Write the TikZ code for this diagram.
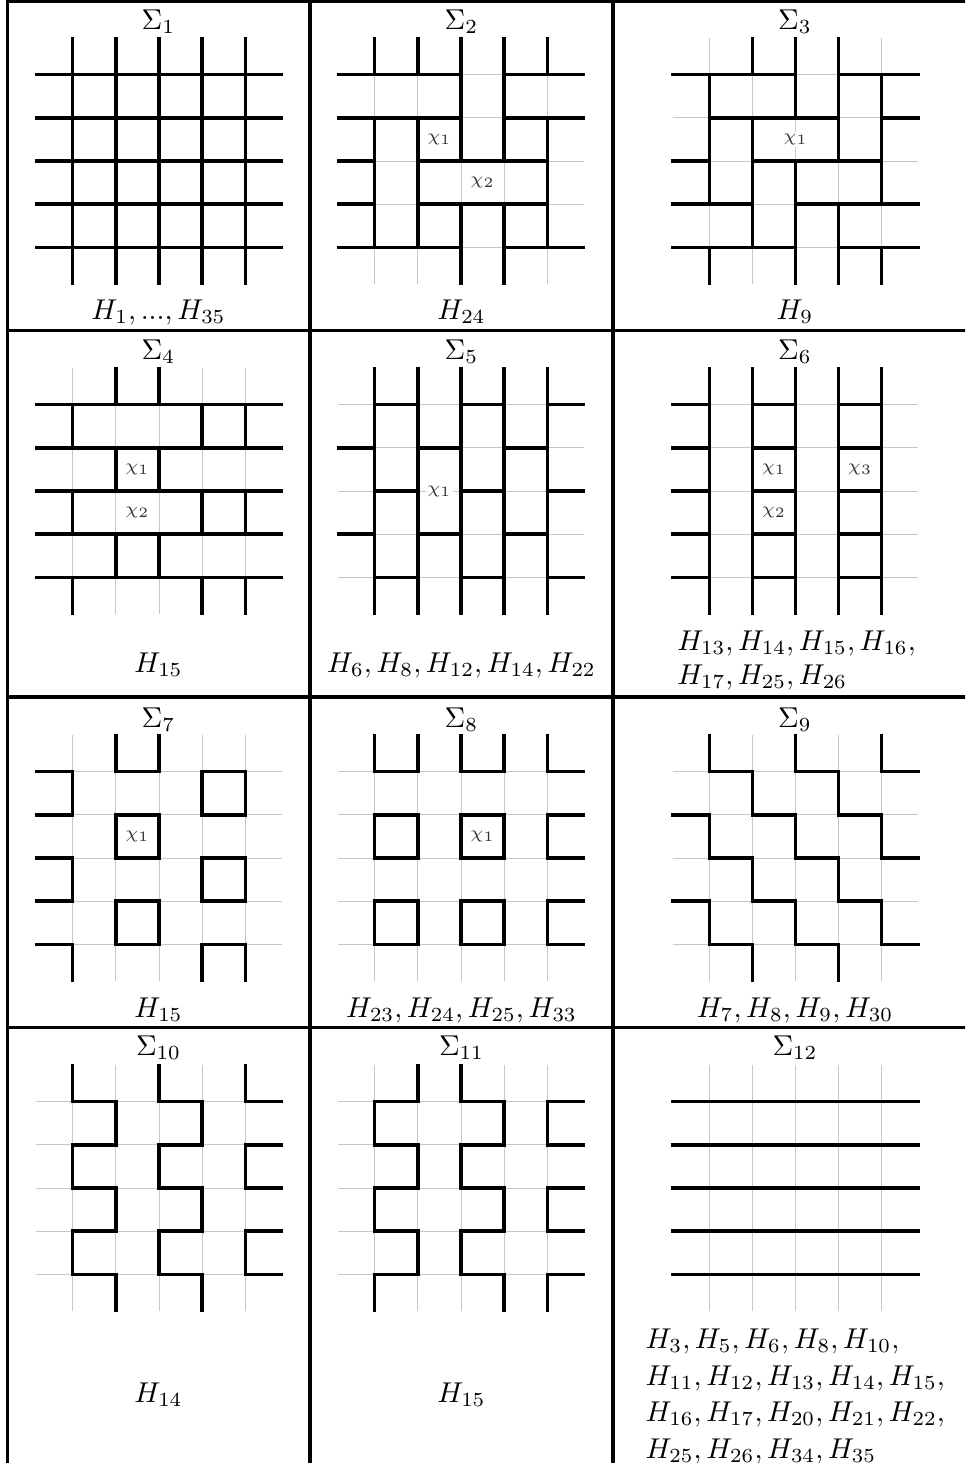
\documentclass[tikz,border=0pt]{standalone}
\tikzset{
  thk/.style={line width=1.16pt, line cap=rect, black},
  gridln/.style={line width=0.35pt, black!22},
  tabrule/.style={line width=1.06pt, line cap=rect, black},
  chi/.style={font=\fontsize{6}{7}\selectfont, text=black!80, fill=white, inner sep=0.6pt},
  lbl/.style={anchor=base, inner sep=0pt},
  lblw/.style={anchor=base west, inner sep=0pt},
  cellsc/.style={x=15.042pt,y=-15.042pt},
}
\def\lo{-0.845}
\def\hi{4.845}
\newcommand\sggrid{\foreach \k in {0,...,4}{\draw[gridln] (\lo,\k)--(\hi,\k) (\k,\lo)--(\k,\hi);}}
\newcommand\sgA[1]{\draw[thk] (#1,0)--(#1,1) (#1,2)--(#1,3) (#1,4)--(#1,\hi);}
\newcommand\sgB[1]{\draw[thk] (#1,\lo)--(#1,0) (#1,1)--(#1,2) (#1,3)--(#1,4);}
\newcommand\sgF[1]{\draw[thk] (#1,\lo)--(#1,\hi);}
\newcommand\sgHA[1]{\draw[thk] (0,#1)--(1,#1) (2,#1)--(3,#1) (4,#1)--(\hi,#1);}
\newcommand\sgHB[1]{\draw[thk] (\lo,#1)--(0,#1) (1,#1)--(2,#1) (3,#1)--(4,#1);}
\newcommand\sgHF[1]{\draw[thk] (\lo,#1)--(\hi,#1);}
\begin{document}
\begin{tikzpicture}[x=0.349pt,y=-0.349pt]
\path[use as bounding box] (0,0) rectangle (965,1463);
\clip (0,0) rectangle (965,1463);
% table rules
\draw[tabrule] (7.5,1.5) -- (990,1.5);
\draw[tabrule] (7.5,330.5) -- (990,330.5);
\draw[tabrule] (7.5,697) -- (990,697);
\draw[tabrule] (7.5,1027.3) -- (990,1027.3);
\draw[tabrule] (7.5,1.5) -- (7.5,1480);
\draw[tabrule] (310,1.5) -- (310,1480);
\draw[tabrule] (613,1.5) -- (613,1480);

% ---------- Sigma 1
\begin{scope}[shift={(72.8,74.8)},cellsc]
\sggrid
\foreach \k in {0,...,4}{\sgF{\k}\sgHF{\k}}
\end{scope}
% ---------- Sigma 2
\begin{scope}[shift={(374.8,74.8)},cellsc]
\sggrid
\draw[thk] (0,\lo)--(0,0) (0,1)--(0,4)
 (1,\lo)--(1,0) (1,1)--(1,4)
 (2,\lo)--(2,2) (2,3)--(2,\hi)
 (3,\lo)--(3,2) (3,3)--(3,\hi)
 (4,\lo)--(4,0) (4,1)--(4,4);
\draw[thk] (\lo,0)--(2,0) (3,0)--(\hi,0)
 (\lo,1)--(2,1) (3,1)--(\hi,1)
 (\lo,2)--(0,2) (1,2)--(4,2)
 (\lo,3)--(0,3) (1,3)--(4,3)
 (\lo,4)--(2,4) (3,4)--(\hi,4);
\node[chi] (c2a) at (1.5,1.5) {$\chi_1$};
\node[chi] (c2b) at (2.5,2.5) {$\chi_2$};
\end{scope}
% ---------- Sigma 3
\begin{scope}[shift={(709.3,74.8)},cellsc]
\sggrid
\draw[thk] (0,0)--(0,3) (0,4)--(0,\hi)
 (1,\lo)--(1,0) (1,1)--(1,4)
 (2,\lo)--(2,1) (2,2)--(2,\hi)
 (3,\lo)--(3,2) (3,3)--(3,\hi)
 (4,0)--(4,3) (4,4)--(4,\hi);
\draw[thk] (\lo,0)--(2,0) (3,0)--(\hi,0)
 (0,1)--(3,1) (4,1)--(\hi,1)
 (\lo,2)--(0,2) (1,2)--(4,2)
 (\lo,3)--(1,3) (2,3)--(\hi,3)
 (\lo,4)--(2,4) (3,4)--(\hi,4);
\node[chi] (c3a) at (2,1.5) {$\chi_1$};
\end{scope}
% ---------- Sigma 4
\begin{scope}[shift={(72.8,404.8)},cellsc]
\sggrid
\sgA{0}\sgB{1}\sgB{2}\sgA{3}\sgA{4}
\foreach \k in {0,...,4}{\sgHF{\k}}
\node[chi] (c4a) at (1.5,1.5) {$\chi_1$};
\node[chi] (c4b) at (1.5,2.5) {$\chi_2$};
\end{scope}
% ---------- Sigma 5
\begin{scope}[shift={(374.8,404.8)},cellsc]
\sggrid
\foreach \k in {0,...,4}{\sgF{\k}}
\sgHA{0}\sgHB{1}\sgHA{2}\sgHB{3}\sgHA{4}
\node[chi] (c5a) at (1.5,2) {$\chi_1$};
\end{scope}
% ---------- Sigma 6
\begin{scope}[shift={(709.3,404.8)},cellsc]
\sggrid
\foreach \k in {0,...,4}{\sgF{\k}\sgHB{\k}}
\node[chi] (c6a) at (1.5,1.5) {$\chi_1$};
\node[chi] (c6b) at (1.5,2.5) {$\chi_2$};
\node[chi] (c6c) at (3.5,1.5) {$\chi_3$};
\end{scope}
% ---------- Sigma 7
\begin{scope}[shift={(72.8,771.8)},cellsc]
\sggrid
\sgA{0}\sgB{1}\sgB{2}\sgA{3}\sgA{4}
\foreach \k in {0,...,4}{\sgHB{\k}}
\node[chi] (c7a) at (1.5,1.5) {$\chi_1$};
\end{scope}
% ---------- Sigma 8
\begin{scope}[shift={(374.8,771.8)},cellsc]
\sggrid
\foreach \k in {0,...,4}{\sgB{\k}\sgHA{\k}}
\node[chi] (c8a) at (2.5,1.5) {$\chi_1$};
\end{scope}
% ---------- Sigma 9
\begin{scope}[shift={(709.3,771.8)},cellsc]
\sggrid
\sgB{0}\sgA{1}\sgB{2}\sgA{3}\sgB{4}
\sgHA{0}\sgHB{1}\sgHA{2}\sgHB{3}\sgHA{4}
\end{scope}
% ---------- Sigma 10
\begin{scope}[shift={(72.8,1101.8)},cellsc]
\sggrid
\sgB{0}\sgA{1}\sgB{2}\sgA{3}\sgB{4}
\foreach \k in {0,...,4}{\sgHA{\k}}
\end{scope}
% ---------- Sigma 11
\begin{scope}[shift={(374.8,1101.8)},cellsc]
\sggrid
\sgA{0}\sgB{1}\sgB{2}\sgA{3}\sgA{4}
\foreach \k in {0,...,4}{\sgHA{\k}}
\end{scope}
% ---------- Sigma 12
\begin{scope}[shift={(709.3,1101.8)},cellsc]
\sggrid
\foreach \k in {0,...,4}{\sgHF{\k}}
\end{scope}

% ---------- titles
\node[lbl] (s1) at (158.5,29) {$\Sigma_1$};
\node[lbl] (s2) at (461.5,29) {$\Sigma_2$};
\node[lbl] (s3) at (795,29) {$\Sigma_3$};
\node[lbl] (s4) at (158.5,359) {$\Sigma_4$};
\node[lbl] (s5) at (461.5,359) {$\Sigma_5$};
\node[lbl] (s6) at (795,359) {$\Sigma_6$};
\node[lbl] (s7) at (158.5,727) {$\Sigma_7$};
\node[lbl] (s8) at (461.5,727) {$\Sigma_8$};
\node[lbl] (s9) at (795,727) {$\Sigma_9$};
\node[lbl] (s10) at (158.5,1055) {$\Sigma_{10}$};
\node[lbl] (s11) at (461.5,1055) {$\Sigma_{11}$};
\node[lbl] (s12) at (795,1055) {$\Sigma_{12}$};

% ---------- bottom labels
\node[lbl] (h1) at (158.5,319) {$H_1, ..., H_{35}$};
\node[lbl] (h2) at (461.5,319) {$H_{24}$};
\node[lbl] (h3) at (795,319) {$H_9$};
\node[lbl] (h4) at (158.5,672) {$H_{15}$};
\node[lbl] (h5) at (461.5,672) {$H_6, H_8, H_{12}, H_{14}, H_{22}$};
\node[lblw] (h6a) at (676.7,650.5) {$H_{13}, H_{14}, H_{15}, H_{16},$};
\node[lblw] (h6b) at (676.7,684) {$H_{17}, H_{25}, H_{26}$};
\node[lbl] (h7) at (158.5,1017) {$H_{15}$};
\node[lbl] (h8) at (461.5,1017) {$H_{23}, H_{24}, H_{25}, H_{33}$};
\node[lbl] (h9) at (795,1017) {$H_7, H_8, H_9, H_{30}$};
\node[lbl] (h10) at (158.5,1402) {$H_{14}$};
\node[lbl] (h11) at (461.5,1402) {$H_{15}$};
\node[lblw] (h12a) at (645,1348) {$H_3, H_5, H_6, H_8, H_{10},$};
\node[lblw] (h12b) at (645,1385) {$H_{11}, H_{12}, H_{13}, H_{14}, H_{15},$};
\node[lblw] (h12c) at (645,1421) {$H_{16}, H_{17}, H_{20}, H_{21}, H_{22},$};
\node[lblw] (h12d) at (645,1458) {$H_{25}, H_{26}, H_{34}, H_{35}$};
\end{tikzpicture}
\end{document}
